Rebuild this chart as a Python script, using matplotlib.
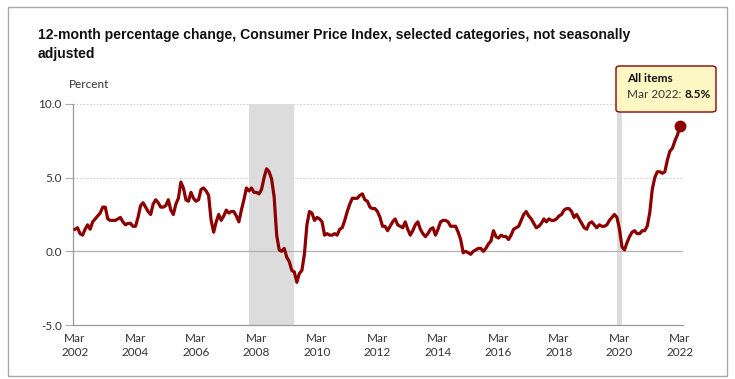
import matplotlib
matplotlib.use("Agg")
import matplotlib.pyplot as plt
from matplotlib.patches import Rectangle, FancyBboxPatch
import numpy as np

# Monthly 12-month % change, CPI-U All items, Mar 2002 - Mar 2022
values = [
    # 2002 (Mar-Dec)
    1.5, 1.6, 1.2, 1.1, 1.5, 1.8, 1.5, 2.0, 2.2, 2.4,
    # 2003
    2.6, 3.0, 3.0, 2.2, 2.1, 2.1, 2.1, 2.2, 2.3, 2.0, 1.8, 1.9,
    # 2004
    1.9, 1.7, 1.7, 2.3, 3.1, 3.3, 3.0, 2.7, 2.5, 3.2, 3.5, 3.3,
    # 2005
    3.0, 3.0, 3.1, 3.5, 2.8, 2.5, 3.2, 3.6, 4.7, 4.3, 3.5, 3.4,
    # 2006
    4.0, 3.6, 3.4, 3.5, 4.2, 4.3, 4.1, 3.8, 2.1, 1.3, 2.0, 2.5,
    # 2007
    2.1, 2.4, 2.8, 2.6, 2.7, 2.7, 2.4, 2.0, 2.8, 3.5, 4.3, 4.1,
    # 2008
    4.3, 4.0, 4.0, 3.9, 4.2, 5.0, 5.6, 5.4, 4.9, 3.7, 1.1, 0.1,
    # 2009
    0.0, 0.2, -0.4, -0.7, -1.3, -1.4, -2.1, -1.5, -1.3, -0.2, 1.8, 2.7,
    # 2010
    2.6, 2.1, 2.3, 2.2, 2.0, 1.1, 1.2, 1.1, 1.1, 1.2, 1.1, 1.5,
    # 2011
    1.6, 2.1, 2.7, 3.2, 3.6, 3.6, 3.6, 3.8, 3.9, 3.5, 3.4, 3.0,
    # 2012
    2.9, 2.9, 2.7, 2.3, 1.7, 1.7, 1.4, 1.7, 2.0, 2.2, 1.8, 1.7,
    # 2013
    1.6, 2.0, 1.5, 1.1, 1.4, 1.8, 2.0, 1.5, 1.2, 1.0, 1.2, 1.5,
    # 2014
    1.6, 1.1, 1.5, 2.0, 2.1, 2.1, 2.0, 1.7, 1.7, 1.7, 1.3, 0.8,
    # 2015
    -0.1, 0.0, -0.1, -0.2, 0.0, 0.1, 0.2, 0.2, 0.0, 0.2, 0.5, 0.7,
    # 2016
    1.4, 1.0, 0.9, 1.1, 1.0, 1.0, 0.8, 1.1, 1.5, 1.6, 1.7, 2.1,
    # 2017
    2.5, 2.7, 2.4, 2.2, 1.9, 1.6, 1.7, 1.9, 2.2, 2.0, 2.2, 2.1,
    # 2018
    2.1, 2.2, 2.4, 2.5, 2.8, 2.9, 2.9, 2.7, 2.3, 2.5, 2.2, 1.9,
    # 2019
    1.6, 1.5, 1.9, 2.0, 1.8, 1.6, 1.8, 1.7, 1.7, 1.8, 2.1, 2.3,
    # 2020
    2.5, 2.3, 1.5, 0.3, 0.1, 0.6, 1.0, 1.3, 1.4, 1.2, 1.2, 1.4,
    # 2021
    1.4, 1.7, 2.6, 4.2, 5.0, 5.4, 5.4, 5.3, 5.4, 6.2, 6.8, 7.0,
    # 2022
    7.5, 7.9, 8.5,
]
start_year, start_month = 2002, 3

tick_labels = ["Mar\n2002", "Mar\n2004", "Mar\n2006", "Mar\n2008", "Mar\n2010",
               "Mar\n2012", "Mar\n2014", "Mar\n2016", "Mar\n2018", "Mar\n2020", "Mar\n2022"]
y_ticks = [-5.0, 0.0, 5.0, 10.0]
recessions = [((2007, 12), (2009, 6)), ((2020, 2), (2020, 4))]

title = "12-month percentage change, Consumer Price Index, selected categories, not seasonally\nadjusted"
series_name = "All items"
last_label = "Mar 2022"

def midx(y, m):
    return (y - start_year) * 12 + (m - start_month)

x = np.arange(len(values))

W, H = 735, 379
fig = plt.figure(figsize=(W / 100, H / 100), dpi=100)
ax = fig.add_axes([73 / W, 1 - 325 / H, (683 - 73) / W, (325 - 104) / H])

line_color = "#8b0000"
tick_font = "Lato"

for (a, b) in recessions:
    ax.axvspan(midx(*a), midx(*b), color="#dcdcdc", lw=0, zorder=1)

for yv in [5.0, 10.0]:
    ax.axhline(yv, color="#d0d0d0", lw=0.8, ls=(0, (1.5, 1.5)), zorder=0)
ax.axhline(0, color="#b0b0b0", lw=0.9, zorder=2)

ax.plot(x, values, color=line_color, lw=2.3, solid_joinstyle="round", zorder=3)
ax.plot(x[-1], values[-1], "o", color=line_color, ms=7.5, zorder=4, clip_on=False)

ax.set_xlim(-0.8, 241.2)
ax.set_ylim(-5, 10)
ax.set_yticks(y_ticks)
ax.set_yticklabels([f"{v:.1f}" for v in y_ticks], fontfamily=tick_font, fontsize=8.5, color="#333333")
ax.set_xticks(np.arange(0, 241, 24))
ax.set_xticklabels(tick_labels, fontfamily=tick_font, fontsize=8.5, color="#333333", linespacing=1.35)
ax.tick_params(axis="y", length=6, color="#aaaaaa", width=0.8, pad=2)
ax.tick_params(axis="x", length=0, pad=6)
for s in ["top", "right"]:
    ax.spines[s].set_visible(False)
ax.spines["left"].set_color("#999999")
ax.spines["left"].set_linewidth(0.9)
ax.spines["bottom"].set_color("#999999")
ax.spines["bottom"].set_linewidth(0.9)

# Outer frame
fig.patches.append(Rectangle((8 / W, 1 - 376 / H), (727 - 8) / W, (376 - 7) / H,
                             transform=fig.transFigure, fill=False, ec="#aaaaaa", lw=1.0))

fig.text(38 / W, 1 - 28.5 / H, title, fontfamily="Liberation Sans", fontweight="bold",
         fontsize=10.1, color="#111111", va="top", ha="left", linespacing=1.4)
fig.text(69 / W, 1 - 85 / H, "Percent", fontfamily=tick_font, fontsize=8.5,
         color="#333333", va="center", ha="left")

# Tooltip
fig.patches.append(FancyBboxPatch((616 / W, 1 - 112 / H), (716 - 616) / W, (112 - 66) / H,
                                  boxstyle="round,pad=0,rounding_size=0.006",
                                  transform=fig.transFigure, fc="#fff7c4", ec="#8b0000", lw=1.0))
fig.text(627 / W, 1 - 79 / H, series_name, fontfamily=tick_font, fontweight="bold",
         fontsize=8.5, color="#111111", va="center", ha="left")
t1 = fig.text(627 / W, 1 - 95 / H, f"{last_label}: ", fontfamily=tick_font,
              fontsize=8.5, color="#333333", va="center", ha="left")
renderer = fig.canvas.get_renderer()
bb = t1.get_window_extent(renderer)
fig.text(bb.x1 / W, 1 - 95 / H, f"{values[-1]:.1f}%", fontfamily=tick_font, fontweight="bold",
         fontsize=8.5, color="#111111", va="center", ha="left")

fig.savefig("out.png", dpi=100)
